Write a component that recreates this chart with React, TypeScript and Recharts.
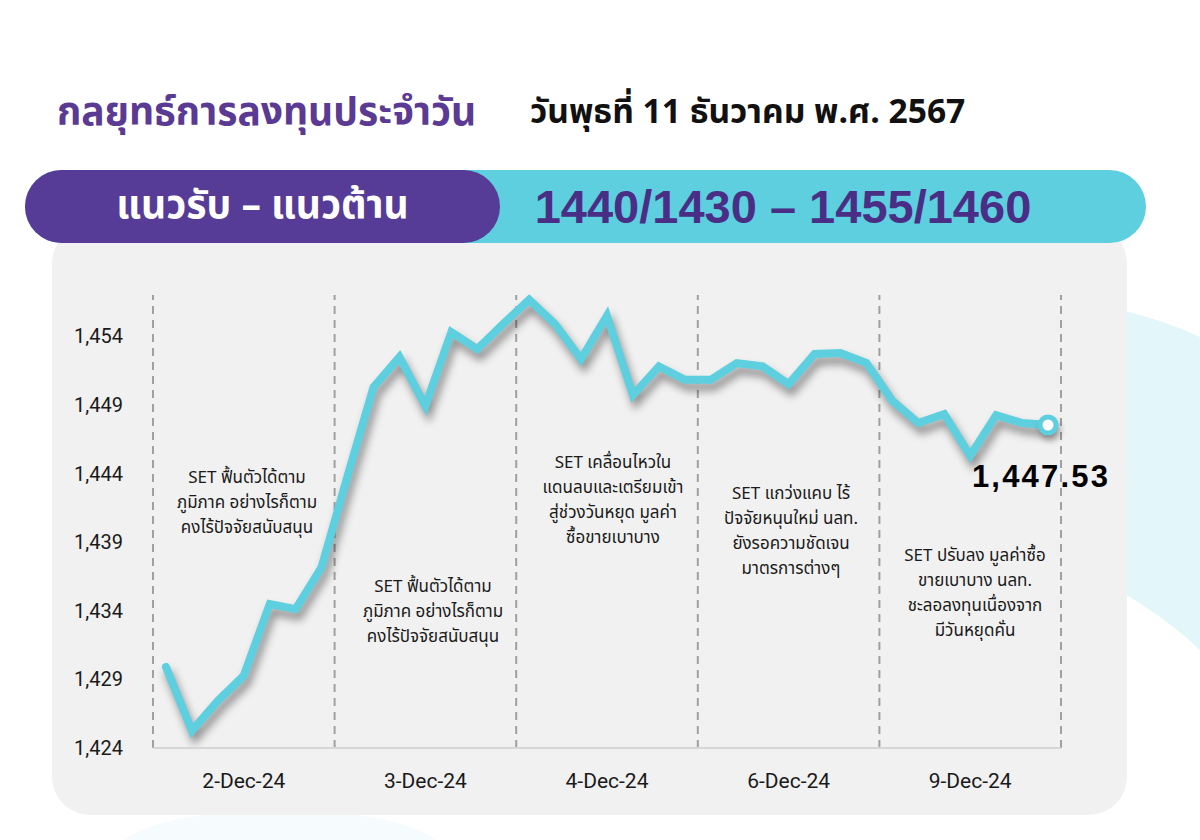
import { LineChart, Line, XAxis, YAxis, ReferenceLine } from 'recharts';

const days = ['2-Dec-24', '3-Dec-24', '4-Dec-24', '6-Dec-24', '9-Dec-24'];
const pointsPerDay = 7;

// SET index, 7 readings per trading day
const setValues = [
  1429.9, 1425.26, 1427.44, 1429.27, 1434.49, 1434.12, 1437.18,
  1443.8, 1450.29, 1452.48, 1448.93, 1454.3, 1453.06, 1454.9,
  1456.65, 1454.88, 1452.33, 1455.49, 1449.71, 1451.8, 1450.82,
  1450.82, 1452.04, 1451.8, 1450.51, 1452.7, 1452.77, 1452.04,
  1449.3, 1447.67, 1448.33, 1445.29, 1448.25, 1447.67, 1447.53,
];

const yTicks = [1424, 1429, 1434, 1439, 1444, 1449, 1454];

const notes = [
  ['SET ฟื้นตัวได้ตาม', 'ภูมิภาค อย่างไรก็ตาม', 'คงไร้ปัจจัยสนับสนุน'],
  ['SET ฟื้นตัวได้ตาม', 'ภูมิภาค อย่างไรก็ตาม', 'คงไร้ปัจจัยสนับสนุน'],
  ['SET เคลื่อนไหวใน', 'แดนลบและเตรียมเข้า', 'สู่ช่วงวันหยุด มูลค่า', 'ซื้อขายเบาบาง'],
  ['SET แกว่งแคบ ไร้', 'ปัจจัยหนุนใหม่ นลท.', 'ยังรอความชัดเจน', 'มาตรการต่างๆ'],
  ['SET ปรับลง มูลค่าซื้อ', 'ขายเบาบาง นลท.', 'ชะลอลงทุนเนื่องจาก', 'มีวันหยุดคั่น'],
];
const noteBox = [
  { x: 247, top: 466 },
  { x: 433, top: 575 },
  { x: 613, top: 451 },
  { x: 791, top: 482 },
  { x: 975, top: 544 },
];

const data = setValues.map((v, i) => ({ i, day: days[Math.floor(i / pointsPerDay)], v }));
const dayCenters = days.map((_, d) => d * pointsPerDay + (pointsPerDay - 1) / 2);
const dayEdges = [...days.map((_, d) => d * pointsPerDay - 0.5), days.length * pointsPerDay - 0.5];
const lastIndex = setValues.length - 1;

const FONT = "'Noto Sans Thai', 'Leelawadee UI', Roboto, 'Noto Sans', sans-serif";

function EndDot(props: any) {
  const { cx, cy, index, value } = props;
  if (index !== lastIndex) return <g key={`d-${index}`} />;
  return (
    <g key={`d-${index}`}>
      <circle cx={cx} cy={cy} r={8} fill="#ffffff" stroke="#5ecfdf" strokeWidth={5} className="end-dot" />
      <text
        x={cx - 7}
        y={cy + 62}
        textAnchor="middle"
        fontFamily="'Liberation Sans', Arial, sans-serif"
        fontWeight={700}
        fontSize={31}
        letterSpacing={2.2}
        fill="#000"
      >
        {value.toLocaleString('en-US', { minimumFractionDigits: 2 })}
      </text>
    </g>
  );
}

export default function App() {
  return (
    <div style={{ position: 'absolute', left: 0, top: 0, width: 1200, height: 840, overflow: 'hidden', background: '#fff', fontFamily: FONT }}>
      <style>{`
        .recharts-line-curve { filter: drop-shadow(3px 7px 4px rgba(0,0,0,0.42)); }
        .end-dot { filter: drop-shadow(2px 5px 3px rgba(0,0,0,0.3)); }
      `}</style>
      <svg width={1200} height={840} style={{ position: 'absolute', left: 0, top: 0 }}>
        <path d="M1100,305 Q1160,318 1200,337 L1200,650 Q1160,612 1100,580 Z" fill="#e3f6f9" />
        <ellipse cx={280} cy={850} rx={160} ry={40} fill="#f6fcfd" />
      </svg>

      {/* grey panel */}
      <div style={{ position: 'absolute', left: 52, top: 225, width: 1075, height: 590, background: '#f1f1f1', borderRadius: 38 }} />

      {/* title */}
      <div style={{ position: 'absolute', left: 57, top: 84, fontSize: 39, fontWeight: 700, color: '#5a3a93', whiteSpace: 'nowrap' }}>
        กลยุทธ์การลงทุนประจำวัน
      </div>
      <div style={{ position: 'absolute', left: 530, top: 87, fontSize: 33.6, fontWeight: 700, color: '#111', whiteSpace: 'nowrap' }}>
        วันพุธที่ 11 ธันวาคม พ.ศ. 2567
      </div>

      {/* banner */}
      <div style={{ position: 'absolute', left: 25, top: 170, width: 1121, height: 73, background: '#5dcfdf', borderRadius: 37 }} />
      <div style={{ position: 'absolute', left: 25, top: 170, width: 475, height: 73, background: '#563c96', borderRadius: 37, display: 'flex', alignItems: 'center', justifyContent: 'center', color: '#fff', fontSize: 39, fontWeight: 700, whiteSpace: 'nowrap' }}>
        แนวรับ – แนวต้าน
      </div>
      <div style={{ position: 'absolute', left: 500, top: 170, width: 566, height: 73, display: 'flex', alignItems: 'center', justifyContent: 'center', color: '#4a2e86', fontSize: 47, fontWeight: 700, fontFamily: "'Liberation Sans', Arial, sans-serif", whiteSpace: 'nowrap' }}>
        1440/1430 – 1455/1460
      </div>

      <div style={{ position: 'absolute', left: 0, top: 0 }}>
        <LineChart width={1200} height={840} data={data} margin={{ top: 295, right: 139, bottom: 52, left: 73 }}>
          <XAxis
            type="number"
            dataKey="i"
            domain={[-0.5, lastIndex + 0.5]}
            ticks={dayCenters}
            tickFormatter={(i: number) => days[Math.floor(i / pointsPerDay)]}
            axisLine={{ stroke: '#d6d6d6', strokeWidth: 2 }}
            tickLine={false}
            tickSize={0}
            tickMargin={25}
            height={40}
            tick={{ fill: '#1a1a1a', fontSize: 21, fontFamily: "Roboto, sans-serif" }}
          />
          <YAxis
            domain={[1424, 1457]}
            ticks={yTicks}
            tickFormatter={(v: number) => v.toLocaleString('en-US')}
            axisLine={false}
            tickLine={false}
            tickSize={0}
            tickMargin={30}
            width={80}
            tick={{ fill: '#1a1a1a', fontSize: 20, fontFamily: "Roboto, sans-serif" }}
          />
          {dayEdges.map((x) => (
            <ReferenceLine key={x} x={x} stroke="#a0a0a0" strokeWidth={2} strokeDasharray="8 6" />
          ))}
          <Line
            type="linear"
            dataKey="v"
            stroke="#5ecfdf"
            strokeWidth={8}
            strokeLinecap="round"
            strokeLinejoin="miter"
            dot={EndDot}
            activeDot={false}
            isAnimationActive={false}
          />
        </LineChart>
      </div>

      {notes.map((lines, d) => (
        <div
          key={d}
          style={{ position: 'absolute', left: noteBox[d].x - 100, top: noteBox[d].top, width: 200, textAlign: 'center', fontSize: 17, lineHeight: '25px', color: '#1a1a1a', whiteSpace: 'nowrap' }}
        >
          {lines.map((l, k) => (
            <div key={k}>{l}</div>
          ))}
        </div>
      ))}
    </div>
  );
}
